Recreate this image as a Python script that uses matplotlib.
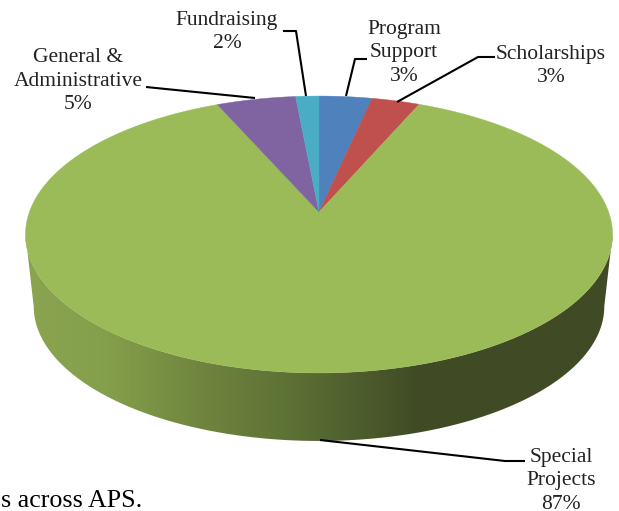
import numpy as np
from matplotlib import pyplot as plt
from matplotlib.patches import Polygon
from matplotlib.colors import LinearSegmentedColormap

# slices clockwise from 12 o'clock
names = ["Program\nSupport", "Scholarships", "Special\nProjects", "General &\nAdministrative", "Fundraising"]
values = [3.4, 3.1, 86.9, 5.1, 1.5]
colors = ["#4f81bd", "#c0504d", "#9bbb59", "#8064a2", "#4bacc6"]

label_x = [404, 551, 561, 78, 227]
label_y = [53, 66, 481, 81, 32]

leaders = [
    [(367, 59), (355, 59), (346, 96)],
    [(495, 57), (478, 57), (397, 102)],
    [(525, 461), (505, 461), (320, 440)],
    [(146, 87), (255, 98)],
    [(283, 31), (296, 31), (306, 96)],
]

side_pos = [0.0, 0.13, 0.3, 0.47, 0.67, 1.0]
side_col = ["#8aa450", "#85a04c", "#6f853e", "#5a6e34", "#404b25", "#404b25"]

cx, cy = 319, 212
rx, ry, persp = 289.6, 134.8, 0.1625
# lower rim is a bit narrower than the top one
bottom_cy, bottom_k = 284.5, 0.972


def rim(theta):
    # perspective view of the pie's circle, pixel coords
    s = np.sin(theta)
    return cx + rx * np.cos(theta) / (1 + persp * s), cy - ry * s / (1 + persp * s)


fig = plt.figure(figsize=(6.19, 5.11), dpi=100)
ax = fig.add_axes([0, 0, 1, 1])
ax.set_xlim(0, 619)
ax.set_ylim(511, 0)
ax.axis("off")

# side wall
a0 = np.arcsin(persp)
t = np.linspace(np.pi + a0, 2 * np.pi - a0, 300)
x, y = rim(t)
x2 = cx + (x - cx) * bottom_k
y2 = bottom_cy + (y - cy) * bottom_k
wall = np.vstack([np.c_[x, y], np.c_[x2[::-1], y2[::-1]]])
cmap = LinearSegmentedColormap.from_list("side", list(zip(side_pos, side_col)))
im = ax.imshow(np.linspace(0, 1, 400).reshape(1, -1), cmap=cmap, aspect="auto",
               extent=[x.min(), x.max(), 511, 0], zorder=1)
im.set_clip_path(Polygon(wall, closed=True, transform=ax.transData))
ax.set_xlim(0, 619)
ax.set_ylim(511, 0)

# top slices
start = np.pi / 2
for v, c in zip(values, colors):
    end = start - v / sum(values) * 2 * np.pi
    t = np.linspace(start, end, 400)
    x, y = rim(t)
    pts = np.vstack([[cx, cy], np.c_[x, y]])
    ax.add_patch(Polygon(pts, closed=True, facecolor=c, edgecolor=c, lw=0.3, zorder=2))
    start = end

for line in leaders:
    xs, ys = zip(*line)
    ax.plot(xs, ys, color="black", lw=1.5, zorder=3, solid_capstyle="butt")

for n, v, lx, ly in zip(names, values, label_x, label_y):
    ax.text(lx, ly, n + "\n%.0f%%" % v, ha="center", va="center", fontsize=15.5,
            family="Liberation Serif", color="#222222", linespacing=1.33, zorder=4)

ax.text(1, 501, "s across APS.", ha="left", va="center", fontsize=18.7,
        family="Liberation Serif", color="black")

fig.savefig("out.png", dpi=100)
